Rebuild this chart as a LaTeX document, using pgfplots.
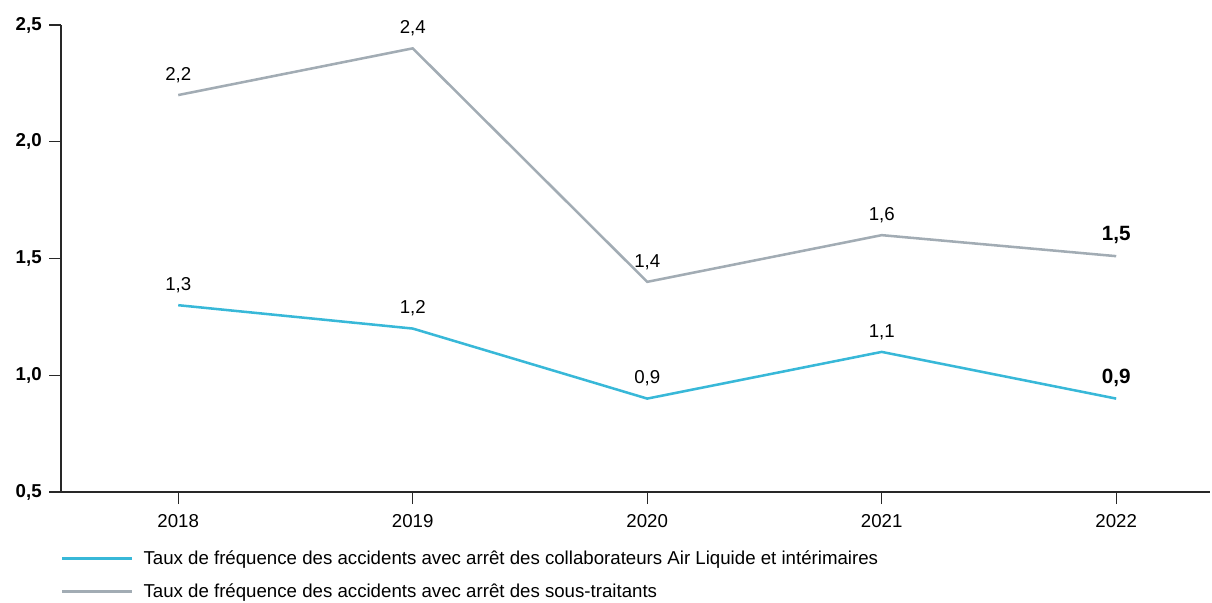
\documentclass[border=0pt]{standalone}
\usepackage{fontspec}
\setmainfont{Liberation Sans}
\usepackage{pgfplots}
\pgfplotsset{compat=1.18}

\definecolor{cyanline}{RGB}{56,184,216}
\definecolor{greyline}{RGB}{162,172,180}
\definecolor{axisgrey}{RGB}{40,40,40}

\begin{document}
\begin{tikzpicture}
\begin{axis}[
    scale only axis,
    width=861.75pt, height=350.25pt,
    xmin=2017.5, xmax=2022.4,
    ymin=0.5, ymax=2.5,
    axis x line*=bottom,
    axis y line*=left,
    axis line style={axisgrey, line width=1.1pt},
    xtick={2018,2019,2020,2021,2022},
    ytick={0.5,1.0,1.5,2.0,2.5},
    x tick label style={/pgf/number format/1000 sep={}, font=\fontsize{14}{16}\selectfont},
    y tick label style={/pgf/number format/.cd, fixed, fixed zerofill, precision=1, use comma,
        /tikz/.cd, font=\fontsize{14}{16}\selectfont\bfseries},
    /pgf/number format/assume math mode=true,
    major tick length=9pt,
    tick align=outside,
    tick style={axisgrey, line width=0.9pt},
    xticklabel style={yshift=-4pt},
    yticklabel style={xshift=-2pt},
    clip=false,
    nodes near coords,
    point meta=explicit symbolic,
    every node near coord/.append style={font=\fontsize{14}{16}\selectfont, yshift=5pt, text=black},
    legend style={at={([yshift=-42pt]rel axis cs:0,0)}, anchor=north west,
        draw=none, fill=none, font=\fontsize{14}{16}\selectfont,
        row sep=9pt, inner sep=0pt, outer sep=0pt},
    legend cell align=left,
    legend image code/.code={\draw[#1, line width=1.9pt] (0pt,0pt) -- (52pt,0pt);},
    legend style={nodes={inner xsep=8pt}},
]
\addplot[color=cyanline, line width=1.9pt, mark=none] coordinates {
    (2018,1.3) [1,3]
    (2019,1.2) [1,2]
    (2020,0.9) [0,9]
    (2021,1.1) [1,1]
    (2022,0.9) [{\raisebox{-2pt}{\fontsize{15.5}{17}\selectfont\bfseries 0,9}}]
};
\addlegendentry{Taux de fréquence des accidents avec arrêt des collaborateurs Air Liquide et intérimaires}
\addplot[color=greyline, line width=1.9pt, mark=none] coordinates {
    (2018,2.2) [2,2]
    (2019,2.4) [2,4]
    (2020,1.4) [1,4]
    (2021,1.6) [1,6]
    (2022,1.51) [{\raisebox{-2pt}{\fontsize{15.5}{17}\selectfont\bfseries 1,5}}]
};
\addlegendentry{Taux de fréquence des accidents avec arrêt des sous-traitants}
\path ([xshift=-45.75pt,yshift=-80.25pt]rel axis cs:0,0) rectangle ([xshift=1.5pt,yshift=18.75pt]rel axis cs:1,1);
\end{axis}
\end{tikzpicture}
\end{document}
